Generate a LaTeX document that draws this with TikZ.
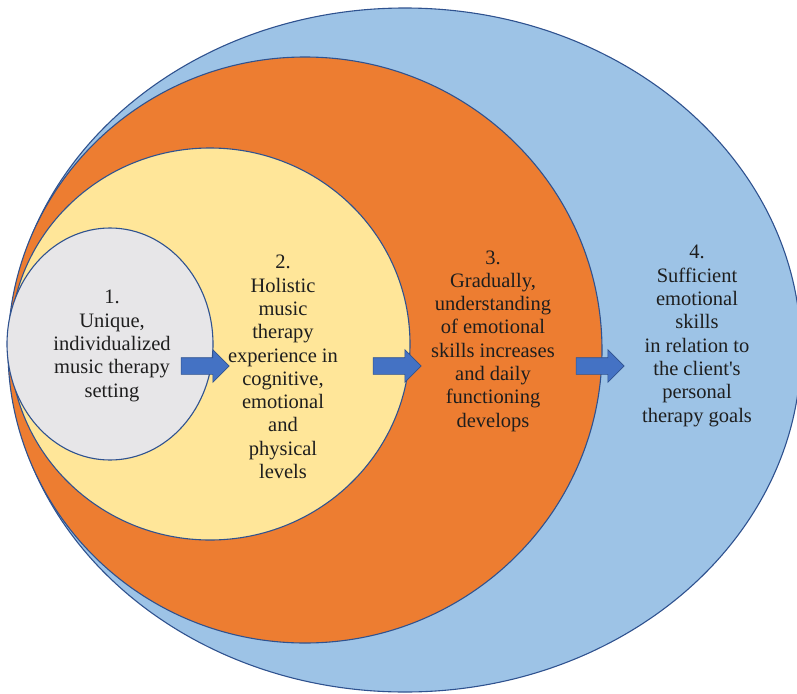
\documentclass[tikz,border=0pt]{standalone}
\usepackage{fontspec}
\setmainfont{Liberation Serif}
\usetikzlibrary{arrows,calc,shapes.arrows}
\usepackage{tkz-euclide}
\definecolor{OuterClr}{RGB}{157,195,230}
\definecolor{MidClr}{RGB}{237,125,49}
\definecolor{InnerClr}{RGB}{255,230,153}
\definecolor{CoreClr}{RGB}{231,230,232}
\definecolor{ArrowClr}{RGB}{68,114,196}
\definecolor{LineClr}{RGB}{47,82,143}
\definecolor{TxtClr}{RGB}{30,30,30}

\begin{document}
\begin{tikzpicture}[x=1pt,y=-1pt,
  ring/.style={draw=LineClr,line width=1.1pt},
  blockarrow/.style={single arrow,draw=LineClr,fill=ArrowClr,line width=0.6pt,
    inner xsep=0pt,inner ysep=8pt,single arrow head extend=8pt,
    minimum height=48pt,single arrow tip angle=90},
  txt/.style={align=center,text=TxtClr,font=\fontsize{20.5}{23.3}\selectfont,inner sep=0pt}]
\useasboundingbox (0,0) rectangle (797,693);

\tkzDefPoints{405/350/O,305/350/P,210/344/Q,110/344/R}

% rings, outer to inner
\draw[ring,fill=OuterClr] (O) ellipse [x radius=396,y radius=342];
\draw[ring,fill=MidClr] (P) ellipse [x radius=297,y radius=293];
\draw[ring,fill=InnerClr] (Q) ellipse [x radius=200,y radius=196];
\draw[ring,fill=CoreClr] (R) ellipse [x radius=103,y radius=116];

\node[blockarrow] (a1) at (201,366) {};
\node[blockarrow] (a2) at (393,366) {};
\node[blockarrow] (a3) at (596,366) {};

\node[txt] (s1) at (112,346) {1.\\Unique,\\individualized\\music therapy\\setting};
\node[txt] (s2) at (283,367) {2.\\Holistic\\music\\therapy\\experience in\\cognitive,\\emotional\\and\\physical\\levels};
\node[txt] (s3) at (493,341) {3.\\Gradually,\\understanding\\of emotional\\skills increases\\and daily\\functioning\\develops};
\node[txt] (s4) at (697,336) {4.\\Sufficient\\emotional\\skills\\in relation to\\the client\textquotesingle s\\personal\\therapy goals};

\end{tikzpicture}
\end{document}
